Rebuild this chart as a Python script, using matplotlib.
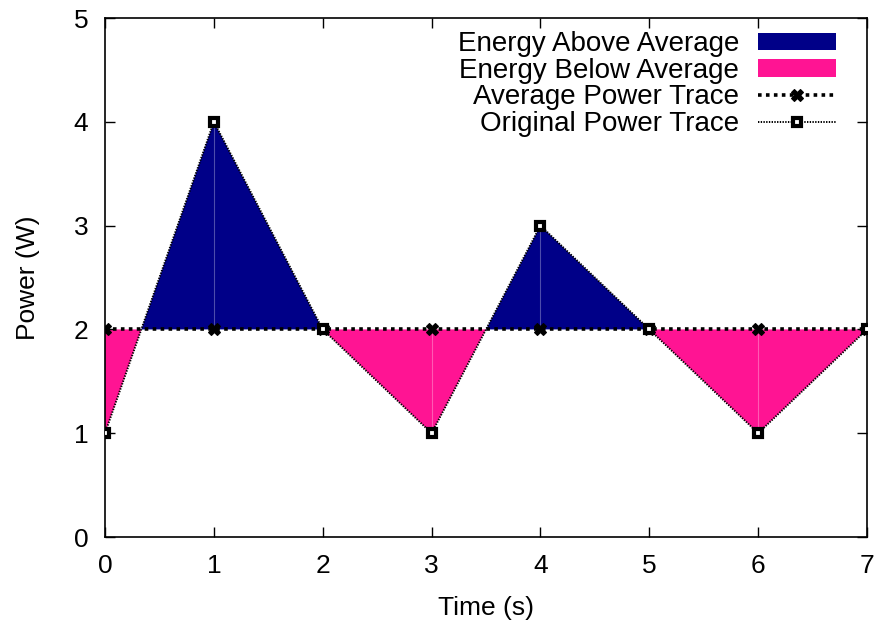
import numpy as np
import matplotlib
matplotlib.use("Agg")
import matplotlib.pyplot as plt

plt.rcParams['font.family'] = ['Liberation Sans', 'DejaVu Sans']

time_s = [0, 1, 2, 3, 4, 5, 6, 7]
power_w = [1, 4, 2, 1, 3, 2, 1, 2]
average_w = [2, 2, 2, 2, 2, 2, 2, 2]

x = np.array(time_s, dtype=float)
p = np.array(power_w, dtype=float)
a = np.array(average_w, dtype=float)

fig = plt.figure(figsize=(8.78, 6.23), dpi=100)
ax = fig.add_axes([0.1196, 0.138, 0.8679, 0.8331])

navy = '#000088'
pink = '#ff1493'

ax.fill_between(x, a, p, where=p >= a, interpolate=True, color=navy, lw=0,
                label='Energy Above Average')
ax.fill_between(x, a, p, where=p <= a, interpolate=True, color=pink, lw=0,
                label='Energy Below Average')

# faint seams between adjacent filled segments
for xi, pi, ai in zip(x[1:-1], p[1:-1], a[1:-1]):
    if pi != ai:
        ax.plot([xi, xi], [ai, pi], color='white', alpha=0.3, lw=0.8, zorder=3)

ax.plot(x, a, color='black', ls=(0, (1.0, 1.2)), lw=2.6, marker='X', ms=8,
        mec='black', mfc='black', mew=0.8, label='Average Power Trace', zorder=4)
ax.plot(x, p, color='black', ls=(0, (0.7, 0.7)), lw=1.4, marker='s', ms=5.6,
        mec='black', mfc='white', mew=3.0, label='Original Power Trace', zorder=5)

ax.set_xlim(0, 7)
ax.set_ylim(0, 5)
ax.set_xticks(range(0, 8))
ax.set_yticks(range(0, 6))
ax.tick_params(direction='in', top=True, right=True, length=7, width=1,
               labelsize=19)
ax.tick_params(axis='x', pad=12)
ax.tick_params(axis='y', pad=12)
for s in ax.spines.values():
    s.set_linewidth(1.2)

ax.set_xlabel('Time (s)', fontsize=19, labelpad=13)
ax.set_ylabel('Power (W)', fontsize=19, labelpad=24)

leg = ax.legend(loc='upper right', bbox_to_anchor=(0.985, 1.012),
                markerfirst=False, frameon=False,
                fontsize=20, handlelength=2.8, handleheight=0.6,
                labelspacing=0.02, borderaxespad=0.3, handletextpad=0.7)
for t in leg.get_texts():
    t.set_ha('right')

fig.savefig('out.png', dpi=100)
